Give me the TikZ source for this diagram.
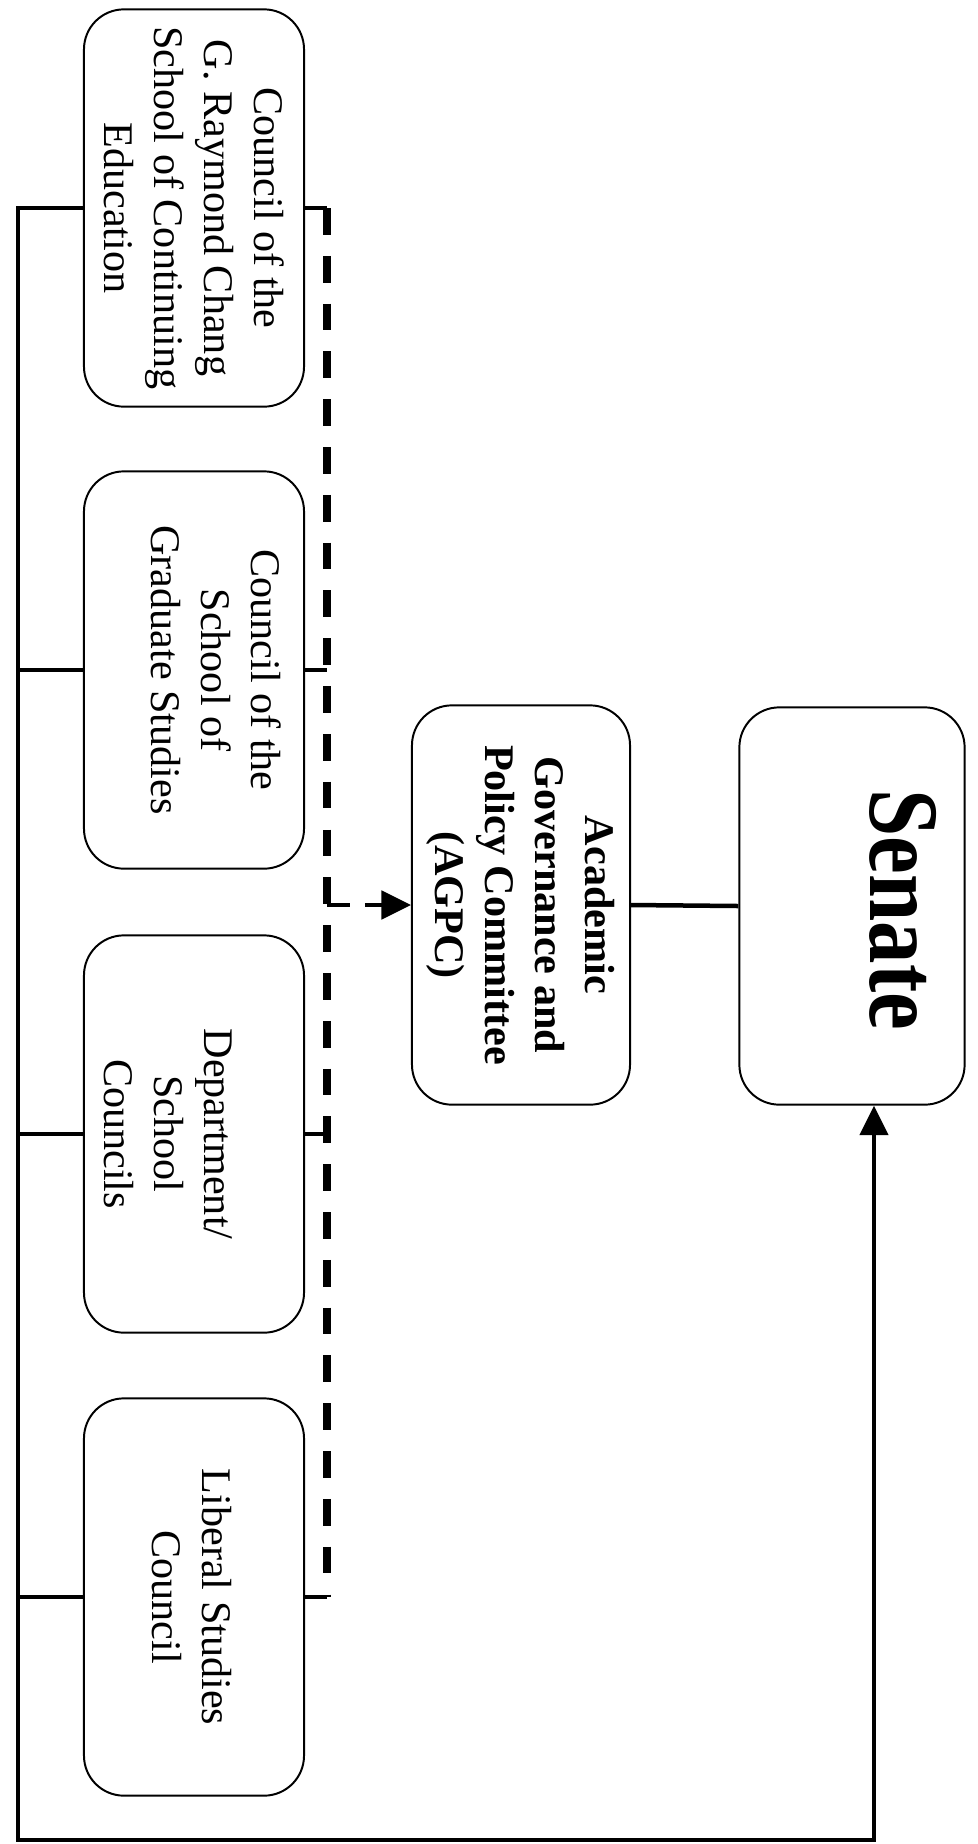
\documentclass[tikz,border=0pt]{standalone}
\usepackage{fontspec}
\setmainfont{Liberation Serif}
\newfontfamily\senatefont[FakeStretch=0.85]{Liberation Serif}
\usetikzlibrary{arrows.meta}

\tikzset{
	council/.style={draw, line width=1.4pt, rounded corners=1cm, minimum width=5.5cm, minimum height=9.93cm},
	council text/.style={rotate=-90, align=center, font=\fontsize{30}{35.5}\selectfont},
	link/.style={line width=3.2pt},
	dash link/.style={line width=5pt, dash pattern=on 19pt off 15pt},
}

\begin{document}
\begin{tikzpicture}[x=0.025cm, y=-0.025cm, >={Triangle[length=21pt, width=20pt]}]
\useasboundingbox (0,0) rectangle (978,1844);

\foreach \m/\y in {1/208,2/670,3/1134,4/1597}
	\node [council] (council-\m) at (194,\y) {};

\node [council, minimum width=5.45cm, minimum height=9.98cm] (agpc) at (521,905) {};
\node [council, minimum width=5.63cm] (senate) at (852,906) {};

%this part is only for the names in the boxes
\foreach \t/\s [count=\i] in {{Council of the\\G. Raymond Chang\\School of Continuing\\Education}/0cm,
		{Council of the\\School of\\Graduate Studies}/0.55cm,
		{Department/\\School\\Councils}/-0.65cm,
		{Liberal Studies\\Council}/-0.05cm}
	\node [council text] (council-text-\i) at ([xshift=\s]council-\i.center) {\t};

\node [council text, font=\bfseries\fontsize{30}{35.5}\selectfont] (agpc-text) at (agpc.center) {Academic\\Governance and\\Policy Committee\\(AGPC)};
\node [rotate=-90, anchor=base, font=\senatefont\bfseries\fontsize{71}{80}\selectfont] (senate-text) at ([xshift=0.45cm, yshift=-0.1cm]senate.center) {Senate};

%drawing part
\coordinate (spine) at (18,1840);
\coordinate (dash) at (327,0);

\draw [link, ->] (council-1.west) -| (spine) -| ([xshift=0.55cm]senate.south);
\foreach \i in {2,3,4}
	\draw [link] (council-\i.west) -- (council-\i.west -| spine);
\foreach \i in {1,...,4}
	\draw [link] (council-\i.east) -- (council-\i.east -| dash);
\draw [dash link] (council-1.east -| dash) -- (council-4.east -| dash);
\draw [link, dash pattern=on 16pt off 11pt, ->] (agpc.west -| dash) -- (agpc.west);
\draw [link] (agpc.east) -- (senate.west);

\end{tikzpicture}
\end{document}
